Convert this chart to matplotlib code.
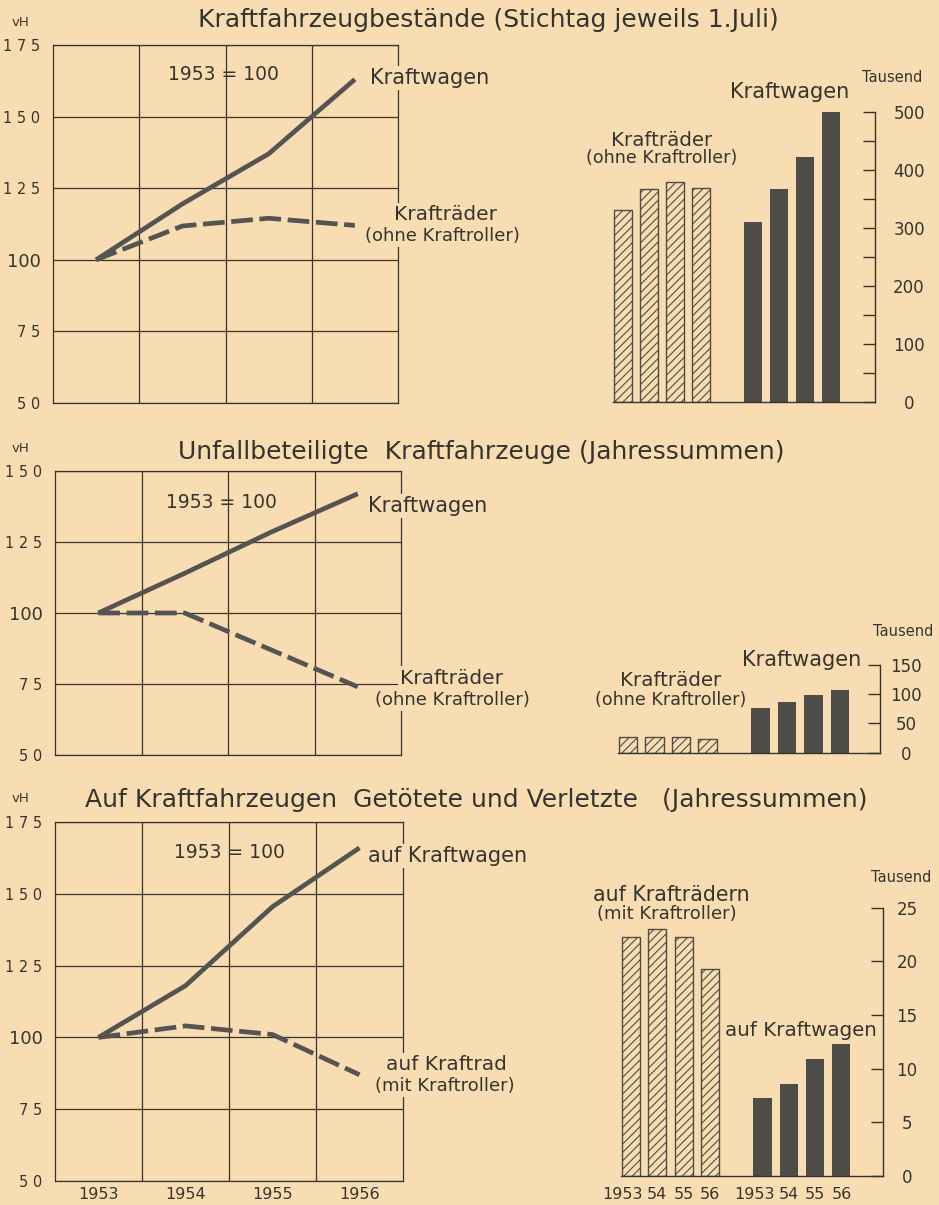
import matplotlib
matplotlib.use('Agg')
import matplotlib.pyplot as plt
from matplotlib.transforms import ScaledTranslation
import numpy as np

W, H = 939, 1205
BG = '#f8ddb2'
INK = '#363430'
LINE = '#565452'
DARK = '#4e4c47'

plt.rcParams['font.family'] = ['DejaVu Sans']
plt.rcParams['hatch.linewidth'] = 0.8

years = [1953, 1954, 1955, 1956]
year_labels = ['1953', '1954', '1955', '1956']
bar_tick_labels = ['1953', '54', '55', '56', '1953', '54', '55', '56']

# Panel 1: Kraftfahrzeugbestände
p1_wagen_idx = [100, 119.5, 137, 163]
p1_rad_idx = [100, 111.8, 114.5, 112]
p1_rad_abs = [330, 366, 378, 368]
p1_wagen_abs = [310, 367, 422, 500]

# Panel 2: Unfallbeteiligte Kraftfahrzeuge
p2_wagen_idx = [100, 114, 128.5, 142]
p2_rad_idx = [100, 100, 87, 74]
p2_rad_abs = [27, 27.5, 27, 23]
p2_wagen_abs = [76, 86, 98, 107]

# Panel 3: Getötete und Verletzte
p3_wagen_idx = [100, 118, 145.5, 166]
p3_rad_idx = [100, 104, 101, 87]
p3_rad_abs = [22.3, 23.0, 22.3, 19.3]
p3_wagen_abs = [7.3, 8.6, 10.9, 12.3]

fig = plt.figure(figsize=(W / 100, H / 100), dpi=100)
fig.patch.set_facecolor(BG)


def ax_px(left, top, right, bottom):
    return fig.add_axes([left / W, 1 - bottom / H, (right - left) / W, (bottom - top) / H])


def ftext(x, y, s, size=12, ha='center', mask=False, **kw):
    extra = {}
    if mask:
        extra['bbox'] = dict(facecolor=BG, edgecolor='none', pad=1.5)
    return fig.text(x / W, 1 - y / H, s, fontsize=size, ha=ha, va='center',
                    color=INK, **extra, **kw)


def ylab(v):
    s = str(v)
    return s if v == 100 else ' '.join(s)


def line_panel(box, ymin, ymax, wagen, rad, show_years=False):
    ax = ax_px(*box)
    ax.set_facecolor('none')
    ax.set_xlim(1952.5, 1956.5)
    ax.set_ylim(ymin, ymax)
    yt = list(range(ymin, ymax + 1, 25))
    ax.set_yticks(yt)
    ax.set_yticklabels([ylab(v) for v in yt])
    ax.set_xticks(np.arange(1953.5, 1956, 1.0), minor=True)
    ax.set_xticks(years)
    ax.set_xticklabels(year_labels if show_years else [])
    ax.tick_params(axis='y', which='both', length=0, pad=9, colors=INK)
    ax.tick_params(axis='x', which='both', length=0, pad=4, labelsize=11.5, colors=INK)
    for lab, v in zip(ax.get_yticklabels(), yt):
        lab.set_fontsize(13 if v == 100 else 10.5)
    ax.grid(True, which='major', axis='y', color=INK, lw=0.9)
    ax.grid(True, which='minor', axis='x', color=INK, lw=0.9)
    ax.grid(False, which='major', axis='x')
    for sp in ax.spines.values():
        sp.set_color(INK)
        sp.set_linewidth(0.9)
    ax.plot(years, wagen, color=LINE, lw=3.4, solid_capstyle='butt', zorder=3)
    ax.plot(years, rad, color=LINE, lw=3.4, dashes=(4.6, 1.4), zorder=3)
    return ax


def bar_panel(first_center, pitch, axis_x, y0_px, ytop_px, ymax, rad, wagen,
              major, minor=None, show_labels=False, label_cx=908):
    pos = [0, 1, 2, 3, 5, 6, 7, 8]
    xl = -0.38
    xr = (axis_x - first_center) / pitch
    ax = ax_px(first_center + xl * pitch, ytop_px, axis_x, y0_px)
    ax.set_facecolor('none')
    ax.set_xlim(xl, xr)
    ax.set_ylim(0, ymax)
    ax.bar(pos[:4], rad, width=0.69, facecolor=BG, edgecolor=DARK, hatch='////', lw=1.0)
    ax.bar(pos[4:], wagen, width=0.69, color=DARK, lw=0)
    for s in ['left', 'top']:
        ax.spines[s].set_visible(False)
    for s in ['right', 'bottom']:
        ax.spines[s].set_color(INK)
        ax.spines[s].set_linewidth(1.0)
    ax.yaxis.tick_right()
    ax.set_yticks(major)
    if minor is not None:
        ax.set_yticks(minor, minor=True)
    ax.tick_params(axis='y', which='both', direction='in', length=9, width=1.0,
                   pad=(label_cx - axis_x) * 0.72, labelsize=12, colors=INK)
    for lab in ax.get_yticklabels():
        lab.set_horizontalalignment('center')
    if show_labels:
        ax.set_xticks(pos)
        ax.set_xticklabels(bar_tick_labels)
        ax.tick_params(axis='x', length=0, pad=8, labelsize=11.5, colors=INK)
        for lab in ax.get_xticklabels():
            if lab.get_text() == '1953':
                lab.set_transform(lab.get_transform() +
                                  ScaledTranslation(-8 / 100, 0, fig.dpi_scale_trans))
    else:
        ax.set_xticks([])
    return ax


# ---------------- Panel 1 ----------------
ftext(488, 20, 'Kraftfahrzeugbestände (Stichtag jeweils 1.Juli)', size=18)
ftext(20, 22, 'vH', size=9.5)
line_panel((53, 45, 398, 403), 50, 175, p1_wagen_idx, p1_rad_idx)
ftext(223, 75, '1953 = 100', size=13.5)
ftext(370, 78, 'Kraftwagen', size=15, ha='left', mask=True)
ftext(446, 215, 'Krafträder', size=14.5, mask=True)
ftext(442, 236, '(ohne Kraftroller)', size=13, mask=True)

bar_panel(623, 26.0, 875, 401.7, 111.7, 500, p1_rad_abs, p1_wagen_abs,
          major=[0, 100, 200, 300, 400, 500], minor=[50, 150, 250, 350, 450],
          label_cx=909)
ftext(892, 78, 'Tausend', size=10.5)
ftext(790, 92, 'Kraftwagen', size=15)
ftext(662, 140, 'Krafträder', size=14.3)
ftext(662, 158, '(ohne Kraftroller)', size=12.6)

# ---------------- Panel 2 ----------------
ftext(481, 452, 'Unfallbeteiligte  Kraftfahrzeuge (Jahressummen)', size=18)
ftext(20, 449, 'vH', size=9.5)
line_panel((55, 471, 401, 755), 50, 150, p2_wagen_idx, p2_rad_idx)
ftext(221, 502, '1953 = 100', size=13.5)
ftext(368, 506, 'Kraftwagen', size=15, ha='left', mask=True)
ftext(452, 678, 'Krafträder', size=14.5, mask=True)
ftext(452, 700, '(ohne Kraftroller)', size=13, mask=True)

bar_panel(628, 26.5, 880, 752.7, 665, 150, p2_rad_abs, p2_wagen_abs,
          major=[0, 50, 100, 150], label_cx=906)
ftext(903, 632, 'Tausend', size=10.5)
ftext(802, 660, 'Kraftwagen', size=15)
ftext(671, 681, 'Krafträder', size=14.3)
ftext(671, 700, '(ohne Kraftroller)', size=12.6)

# ---------------- Panel 3 ----------------
ftext(476, 800, 'Auf Kraftfahrzeugen  Getötete und Verletzte   (Jahressummen)', size=18)
ftext(20, 799, 'vH', size=9.5)
line_panel((55, 822, 403, 1181), 50, 175, p3_wagen_idx, p3_rad_idx, show_years=True)
ftext(229, 852, '1953 = 100', size=13.5)
ftext(368, 856, 'auf Kraftwagen', size=15, ha='left', mask=True)
ftext(446, 1065, 'auf Kraftrad', size=14.5, mask=True)
ftext(445, 1086, '(mit Kraftroller)', size=13, mask=True)

bar_panel(631, 26.3, 883, 1176, 907.7, 25, p3_rad_abs, p3_wagen_abs,
          major=[0, 5, 10, 15, 20, 25], show_labels=True, label_cx=907)
ftext(901, 877, 'Tausend', size=10.5)
ftext(671, 895, 'auf Krafträdern', size=14.8)
ftext(667, 914, '(mit Kraftroller)', size=13)
ftext(801, 1031, 'auf Kraftwagen', size=14.3)

fig.savefig('out.png', dpi=100, facecolor=BG)
